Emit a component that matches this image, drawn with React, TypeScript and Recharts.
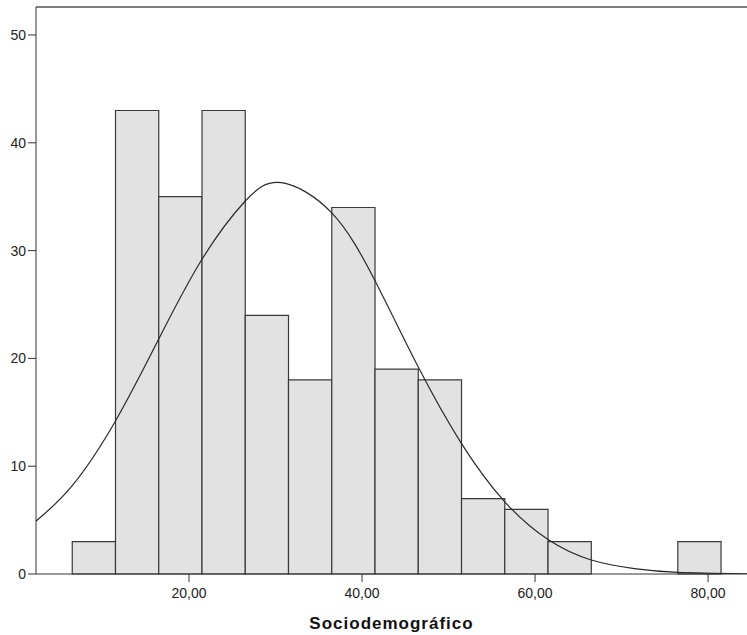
import { ComposedChart, Line, XAxis, YAxis, ReferenceArea, ReferenceLine } from 'recharts'

// histogram bins (edges) and counts
const BIN_LOW  = [6.5, 11.5, 16.5, 21.5, 26.5, 31.5, 36.5, 41.5, 46.5, 51.5, 56.5, 61.5, 66.5, 71.5, 76.5]
const BIN_HIGH = [11.5, 16.5, 21.5, 26.5, 31.5, 36.5, 41.5, 46.5, 51.5, 56.5, 61.5, 66.5, 71.5, 76.5, 81.5]
const COUNTS   = [3, 43, 35, 43, 24, 18, 34, 19, 18, 7, 6, 3, 0, 0, 3]

// normal curve
const CURVE_X = [2.3, 6.5, 11.5, 16.5, 21.5, 26.5, 30.7, 36.5, 41.5, 46.5, 51.5, 56.5, 61.5, 66.5, 71.5, 76.5, 84.5]
const CURVE_Y = [4.9, 8.2, 14.2, 21.8, 29.2, 34.6, 36.3, 33.5, 27.2, 19.2, 12.1, 6.7, 3.2, 1.3, 0.5, 0.15, 0.02]

const X_TICKS = [20, 40, 60, 80]
const Y_TICKS = [0, 10, 20, 30, 40, 50]
const X_DOMAIN: [number, number] = [2.31, 84.5]
const Y_MAX = 52.6

const FONT = "'Liberation Sans', Arial, sans-serif"
const AXIS = '#333333'
const TEXT = '#222222'

const curveData = CURVE_X.map((x, i) => ({ x, y: CURVE_Y[i] }))

export default function App() {
  return (
    <div style={{ position: 'absolute', left: 0, top: 0, background: '#fff' }}>
      <ComposedChart
        width={747}
        height={635}
        data={curveData}
        margin={{ top: 7, right: 0, left: 0, bottom: 0 }}
      >
        <XAxis
          dataKey="x"
          type="number"
          domain={X_DOMAIN}
          allowDataOverflow
          ticks={X_TICKS}
          tickFormatter={v => v.toFixed(2).replace('.', ',')}
          tick={{ fill: TEXT, fontSize: 14, fontFamily: FONT }}
          tickSize={8}
          tickMargin={6}
          stroke={AXIS}
          height={61}
          label={{
            value: 'Sociodemográfico',
            position: 'insideBottom',
            offset: 6,
            style: { fill: '#111', fontSize: 17, fontWeight: 'bold', fontFamily: FONT, letterSpacing: 1 },
          }}
        />
        <YAxis
          type="number"
          domain={[0, Y_MAX]}
          allowDataOverflow
          ticks={Y_TICKS}
          tick={{ fill: TEXT, fontSize: 14, fontFamily: FONT }}
          tickSize={8}
          tickMargin={2}
          stroke={AXIS}
          width={36}
        />
        <ReferenceLine y={Y_MAX} stroke="#555" strokeWidth={1.5} />
        {COUNTS.map((c, i) =>
          c > 0 ? (
            <ReferenceArea
              key={i}
              x1={BIN_LOW[i]}
              x2={BIN_HIGH[i]}
              y1={0}
              y2={c}
              fill="#e2e2e2"
              fillOpacity={1}
              stroke="#3a3a3a"
              strokeWidth={1.2}
            />
          ) : null
        )}
        <Line
          dataKey="y"
          type="natural"
          stroke="#2a2a2a"
          strokeWidth={1.2}
          dot={false}
          isAnimationActive={false}
        />
      </ComposedChart>
    </div>
  )
}
